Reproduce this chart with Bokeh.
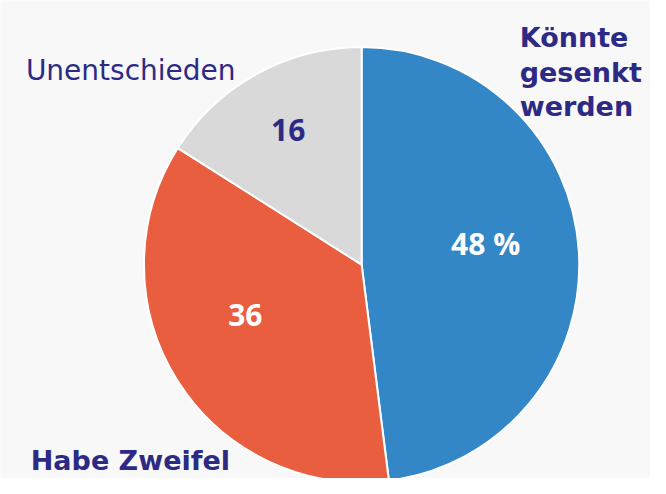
import math
from bokeh.plotting import figure
from bokeh.models import ColumnDataSource, Range1d
from bokeh.core.properties import value
from bokeh.embed import file_html
from bokeh.resources import INLINE

# ---- data ----
categories = ["Könnte gesenkt werden", "Habe Zweifel", "Unentschieden"]
shares = [48, 36, 16]
slice_labels = ["48 %", "36", "16"]
colors = ["#3387c7", "#ea5e40", "#d9d9d9"]
slice_label_colors = ["#ffffff", "#ffffff", "#2c2a85"]

# ---- layout (data units follow the 666x494 reference picture) ----
W, H = 650, 478
RW, RH = 666, 494
cx, cy, R = 370, RH - 273, 223
label_r = [129, 130, 158]
label_shift_deg = [-6.2, 8.8, 0.4]
navy = "#2c2a85"
bg = "#f8f8f8"

total = sum(shares)
starts, ends, lx, ly = [], [], [], []
cum = 0.0
for i, s in enumerate(shares):
    a0 = math.pi / 2 - 2 * math.pi * cum / total
    cum += s
    a1 = math.pi / 2 - 2 * math.pi * cum / total
    starts.append(a0)
    ends.append(a1)
    mid = (a0 + a1) / 2 - math.radians(label_shift_deg[i])
    lx.append(cx + label_r[i] * math.cos(mid))
    ly.append(cy + label_r[i] * math.sin(mid))

src = ColumnDataSource(dict(start=starts, end=ends, color=colors,
                            lx=lx, ly=ly, lab=slice_labels, lc=slice_label_colors))

p = figure(width=W, height=H, x_range=Range1d(0, RW), y_range=Range1d(0, RH),
           x_axis_type=None, y_axis_type=None, toolbar_location=None,
           output_backend="svg", min_border=0, outline_line_color=None,
           background_fill_color=bg, border_fill_color=bg)
p.grid.visible = False

p.wedge(x=cx, y=cy, radius=R, start_angle="start", end_angle="end",
        direction="clock", fill_color="color", line_color="white",
        line_width=2, source=src)

p.text(x="lx", y="ly", text="lab", text_color="lc", source=src,
       text_font=value("Open Sans"), text_font_style="bold",
       text_font_size="30px", text_align="center", text_baseline="middle")

# category labels
p.text(x=[26], y=[RH - 72], text=[categories[2]], text_color=navy,
       text_font=value("DejaVu Sans"), text_font_size="28px",
       text_align="left", text_baseline="alphabetic")

k_lines = categories[0].split(" ")
p.text(x=[532] * 3, y=[RH - 38, RH - 74, RH - 110], text=k_lines,
       text_color=navy, text_font=value("DejaVu Sans"), text_font_style="bold",
       text_font_size="27px", text_align="left", text_baseline="alphabetic")

p.text(x=[31], y=[3], text=[categories[1]], text_color=navy,
       text_font=value("DejaVu Sans"), text_font_style="bold",
       text_font_size="27px", text_align="left", text_baseline="bottom")

html = file_html(p, INLINE)
html = html.replace("<body>", '<body style="background-color:#f8f8f8;">', 1)
open("out.html", "w").write(html)
